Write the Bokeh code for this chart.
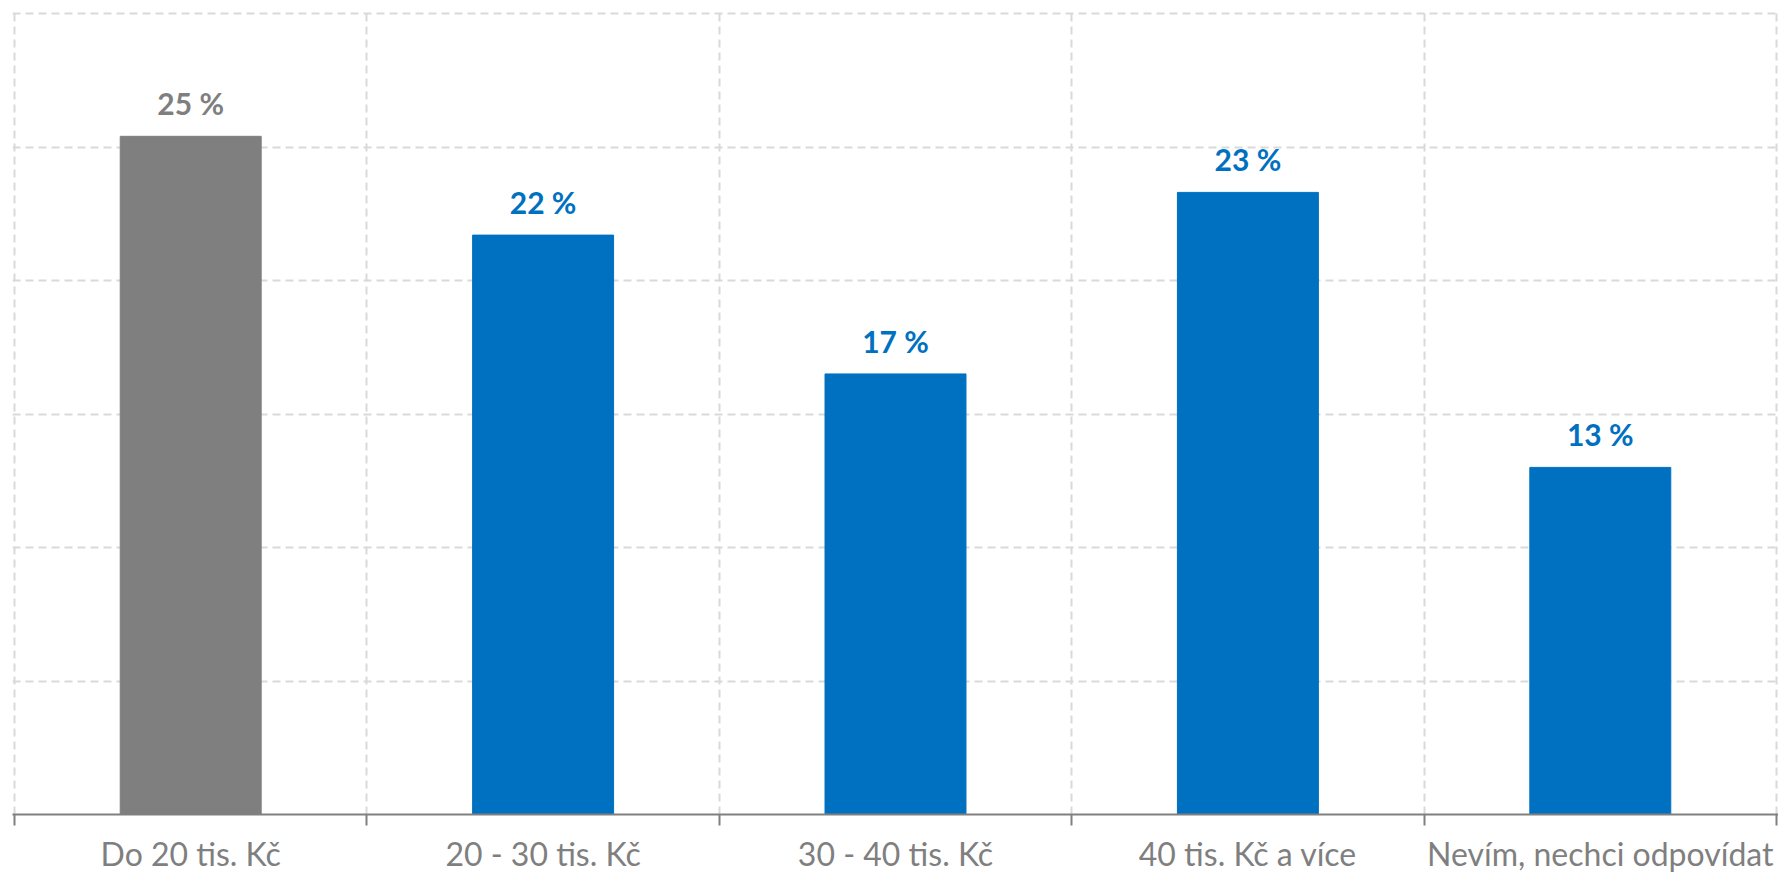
from bokeh.plotting import figure
from bokeh.models import Range1d, FixedTicker, ColumnDataSource, LabelSet
from bokeh.core.properties import value
from bokeh.embed import file_html
from bokeh.resources import INLINE

categories = ["Do 20 tis. Kč", "20 - 30 tis. Kč", "30 - 40 tis. Kč", "40 tis. Kč a více", "Nevím, nechci odpovídat"]
values = [25.4, 21.7, 16.5, 23.3, 13.0]
labels = ["25 %", "22 %", "17 %", "23 %", "13 %"]
colors = ["#7f7f7f", "#0070c0", "#0070c0", "#0070c0", "#0070c0"]
y_ticks = [0, 5, 10, 15, 20, 25, 30]

n = len(categories)
centers = [i + 0.5 for i in range(n)]
bounds = list(range(n + 1))

src = ColumnDataSource(dict(x=centers, top=values, color=colors, label=labels, cat=categories))

p = figure(width=1778, height=875, output_backend="svg", toolbar_location=None,
           x_range=Range1d(-0.0057, n + 0.0057), y_range=Range1d(0, 30.075),
           min_border_left=12, min_border_right=0, min_border_top=11, min_border_bottom=61)
p.outline_line_color = None
p.background_fill_color = "white"

p.vbar(x="x", top="top", width=0.4, color="color", source=src)

lbl = LabelSet(x="x", y="top", text="label", source=src, text_color="color",
               text_align="center", text_baseline="alphabetic", y_offset=21,
               text_font=value("Lato"), text_font_size=value("30px"),
               text_font_style=value("bold"))
p.add_layout(lbl)

p.yaxis.visible = False
p.ygrid.ticker = FixedTicker(ticks=y_ticks)
p.ygrid.grid_line_color = "#d9d9d9"
p.ygrid.grid_line_dash = "8 5"
p.ygrid.grid_line_width = 2

xa = p.xaxis[0]
xa.ticker = FixedTicker(ticks=centers, minor_ticks=bounds)
xa.major_label_overrides = {c: cat for c, cat in zip(centers, categories)}
xa.major_tick_out = 0
xa.major_tick_in = 0
xa.minor_tick_out = 11
xa.minor_tick_in = 0
xa.minor_tick_line_color = "#808080"
xa.minor_tick_line_width = 2
xa.axis_line_color = "#808080"
xa.axis_line_width = 2
xa.major_label_text_font = "Lato"
xa.major_label_text_font_size = "32px"
xa.major_label_text_color = "#7f7f7f"
xa.major_label_standoff = 8

p.xgrid.grid_line_color = None
p.xgrid.minor_grid_line_color = "#d9d9d9"
p.xgrid.minor_grid_line_dash = "8 5"
p.xgrid.minor_grid_line_width = 2

open("out.html", "w").write(file_html(p, INLINE))
